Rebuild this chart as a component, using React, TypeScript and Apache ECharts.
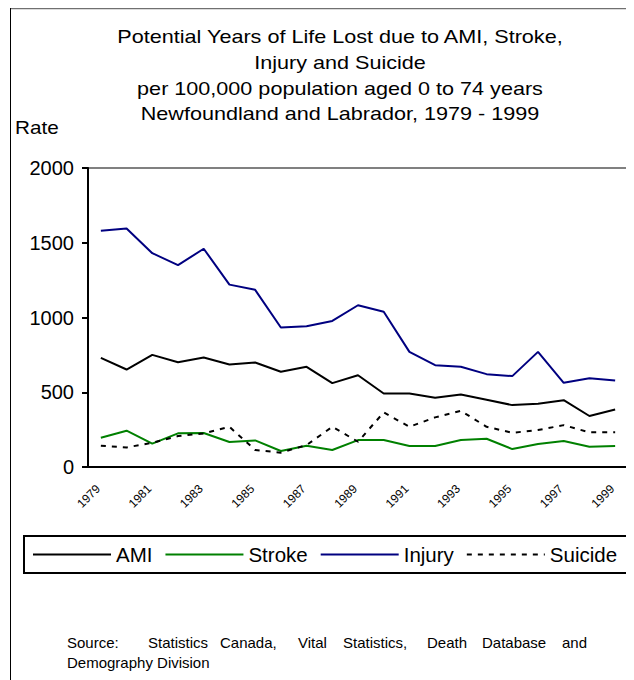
import React, { useEffect, useRef } from "react";
import * as echarts from "echarts";

const years = ["1979","1980","1981","1982","1983","1984","1985","1986","1987","1988","1989","1990","1991","1992","1993","1994","1995","1996","1997","1998","1999"];
const ami = [730, 652, 750, 701, 733, 686, 699, 637, 670, 561, 614, 492, 492, 463, 485, 450, 414, 423, 447, 341, 385];
const stroke = [196, 243, 156, 225, 227, 167, 178, 107, 142, 114, 180, 180, 140, 140, 180, 189, 120, 154, 174, 136, 140];
const injury = [1580, 1595, 1430, 1350, 1460, 1220, 1185, 933, 942, 977, 1082, 1038, 770, 681, 670, 621, 608, 770, 563, 594, 579];
const suicide = [142, 131, 162, 207, 225, 269, 114, 96, 147, 269, 169, 365, 269, 332, 376, 269, 229, 247, 280, 232, 232];

const titleLines = [
  "Potential Years of Life Lost due to AMI, Stroke,",
  "Injury and Suicide",
  "per 100,000 population aged 0 to 74 years",
  "Newfoundland and Labrador, 1979 - 1999",
];
const sourceWords = ["Source:", "Statistics", "Canada,", "Vital", "Statistics,", "Death", "Database", "and"];
const sourceWordX = [59, 140, 212, 290, 335, 419, 474, 554];
const sourceLine2 = "Demography Division";

const FONT = "'Liberation Sans', Arial, sans-serif";

export default function App() {
  const ref = useRef<HTMLDivElement>(null);
  useEffect(() => {
    if (!ref.current) return;
    const chart = echarts.init(ref.current, undefined, { renderer: "svg" });
    const mk = (name: string, data: number[], color: string, type: any) => ({
      name,
      type: "line",
      data,
      symbol: "none",
      lineStyle: { color, width: 2, type },
      itemStyle: { color },
    });
    chart.setOption({
      animation: false,
      textStyle: { fontFamily: FONT },
      legend: {
        left: 16,
        top: 528,
        width: 700,
        padding: [8, 30, 8, 8],
        borderColor: "#000",
        borderWidth: 2,
        itemWidth: 78,
        itemHeight: 20,
        itemGap: 12,
        itemStyle: { opacity: 0 },
        textStyle: { fontSize: 20.5, color: "#000", fontFamily: FONT },
        data: ["AMI", "Stroke", "Injury", "Suicide"],
      },
      grid: {
        left: 80,
        top: 160,
        right: 54,
        bottom: 213,
        show: true,
        borderColor: "#808080",
        borderWidth: 2,
      },
      xAxis: {
        type: "category",
        data: years,
        boundaryGap: true,
        axisLine: { lineStyle: { color: "#000", width: 2 } },
        axisTick: { interval: 0, length: 5, lineStyle: { color: "#000", width: 2 } },
        axisLabel: { interval: 1, rotate: 45, fontSize: 12, color: "#000", margin: 17, padding: [0, 4, 0, 0], fontFamily: FONT },
      },
      yAxis: {
        type: "value",
        min: 0,
        max: 2000,
        interval: 500,
        splitLine: { show: false },
        axisLine: { show: true, lineStyle: { color: "#000", width: 2 } },
        axisTick: { show: true, length: 6, lineStyle: { color: "#000", width: 2 } },
        axisLabel: { fontSize: 20, color: "#000", margin: 14, fontFamily: FONT, formatter: (v: number) => String(v) },
      },
      graphic: [
        { type: "line", shape: { x1: 2, y1: 0.5, x2: 674, y2: 0.5 }, style: { stroke: "#707070", lineWidth: 1.5 } },
        { type: "line", shape: { x1: 2.5, y1: 0, x2: 2.5, y2: 672 }, style: { stroke: "#000", lineWidth: 1 } },
        ...titleLines.map((t, i) => ({
          type: "text",
          x: 332,
          y: 29 + i * 25.7,
          scaleX: 1.2,
          style: { text: t, fill: "#000", font: `18px ${FONT}`, align: "center", verticalAlign: "middle" },
        })),
        { type: "text", x: 7, y: 120, scaleX: 1.15, style: { text: "Rate", fill: "#000", font: `18px ${FONT}`, verticalAlign: "middle" } },
        ...sourceWords.map((w, i) => ({
          type: "text",
          x: sourceWordX[i],
          y: 634,
          style: { text: w, fill: "#000", font: `15px ${FONT}`, verticalAlign: "middle" },
        })),
        { type: "text", x: 59, y: 654, style: { text: sourceLine2, fill: "#000", font: `15px ${FONT}`, verticalAlign: "middle" } },
      ],
      series: [
        mk("AMI", ami, "#000000", "solid"),
        mk("Stroke", stroke, "#008000", "solid"),
        mk("Injury", injury, "#000080", "solid"),
        mk("Suicide", suicide, "#000000", [5, 6]),
      ],
    });
    return () => chart.dispose();
  }, []);
  return (
    <div style={{ width: 626, height: 672, overflow: "hidden" }}>
      <div ref={ref} style={{ width: 674, height: 672 }} />
    </div>
  );
}
